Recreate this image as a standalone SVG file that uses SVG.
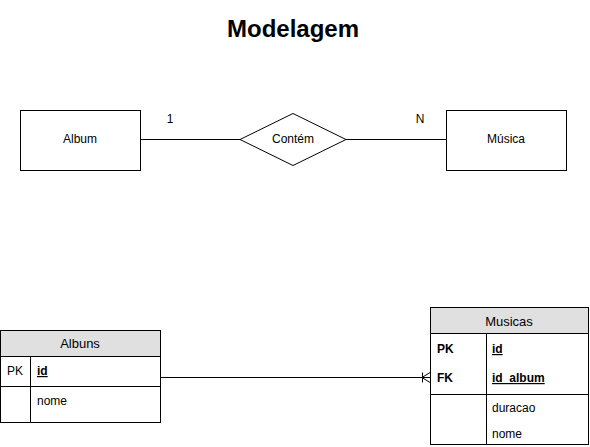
<svg xmlns="http://www.w3.org/2000/svg" width="590" height="447" viewBox="0 0 590 447">
<style>
text{font-family:"Liberation Sans",Arial,sans-serif;fill:#000}
.s{fill:#fff;stroke:#000;stroke-width:1}
.h{fill:#e0e0e0;stroke:#000;stroke-width:1}
.l{stroke:#000;stroke-width:1;fill:none}
.t{font-size:12px}
.b{font-size:12px;font-weight:bold}
</style>
<rect width="590" height="447" fill="#fff"/>
<text x="293" y="37" text-anchor="middle" style="font-size:24px;font-weight:bold">Modelagem</text>
<g id="connectors">
<line class="l" x1="140" y1="139.5" x2="240" y2="139.5"/>
<line class="l" x1="346" y1="139.5" x2="446" y2="139.5"/>
<line class="l" x1="160" y1="377.5" x2="430" y2="377.5"/>
<path class="l" d="M422.5 372.5v10M422 377.5l8-5M422 377.5l8 5"/>
<text x="170" y="123" class="t" text-anchor="middle">1</text>
<text x="420" y="123" class="t" text-anchor="middle">N</text>
</g>
<g id="album">
<rect class="s" x="20.5" y="110.5" width="120" height="60"/>
<text x="80" y="143" class="t" text-anchor="middle">Album</text>
</g>
<g id="contem">
<polygon class="s" points="240,139.5 293,113.5 346,139.5 293,165.5"/>
<text x="293" y="143" class="t" text-anchor="middle">Contém</text>
</g>
<g id="musica">
<rect class="s" x="446.5" y="110.5" width="120" height="60"/>
<text x="506" y="143" class="t" text-anchor="middle">Música</text>
</g>
<g id="albuns">
<rect class="h" x="0.5" y="330.5" width="160" height="26"/>
<rect class="s" x="0.5" y="356.5" width="160" height="66"/>
<line class="l" x1="0" y1="386.5" x2="160" y2="386.5"/>
<line class="l" x1="30.5" y1="356.5" x2="30.5" y2="422.5"/>
<text x="80" y="348" text-anchor="middle" style="font-size:13px">Albuns</text>
<text x="7" y="375" class="t">PK</text>
<text x="37" y="375" class="b" text-decoration="underline">id</text>
<text x="37" y="405" class="t">nome</text>
</g>
<g id="musicas">
<rect class="h" x="430.5" y="307.5" width="158" height="26"/>
<rect class="s" x="430.5" y="333.5" width="158" height="111"/>
<line class="l" x1="430" y1="394.5" x2="588" y2="394.5"/>
<line class="l" x1="486.5" y1="333.5" x2="486.5" y2="444.5"/>
<text x="509" y="326" text-anchor="middle" style="font-size:13px">Musicas</text>
<text x="437" y="353" class="b">PK</text>
<text x="437" y="382" class="b">FK</text>
<text x="492" y="353" class="b" text-decoration="underline">id</text>
<text x="492" y="382" class="b" text-decoration="underline">id_album</text>
<text x="492" y="412" class="t">duracao</text>
<text x="492" y="438" class="t">nome</text>
</g>
</svg>
